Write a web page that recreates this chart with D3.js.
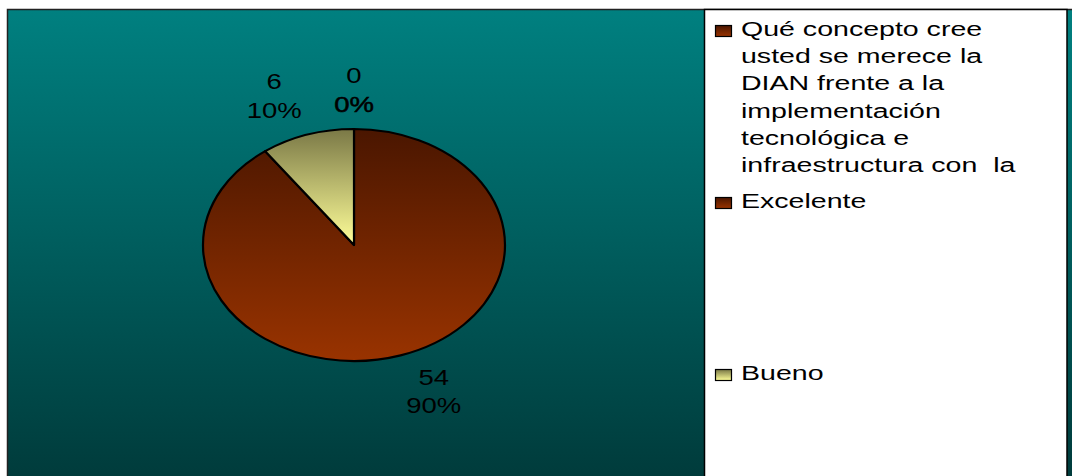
<!DOCTYPE html>
<html lang="es">
<head>
<meta charset="utf-8">
<title>Concepto DIAN</title>
<script src="https://cdn.jsdelivr.net/npm/d3@7"></script>
<style>
  body { margin: 0; background: #fff; }
  text { font-family: "Liberation Sans", Arial, sans-serif; fill: #000; white-space: pre; }
</style>
</head>
<body>
<div id="chart"></div>
<script>
// data
var categories = ["Qué concepto cree usted se merece la DIAN frente a la implementación tecnológica e infraestructura con  la", "Excelente", "Bueno"];
var values = [0, 54, 6];
var legendLines = [
  ["Qué concepto cree", "usted se merece la", "DIAN frente a la", "implementación", "tecnológica e", "infraestructura con  la"],
  ["Excelente"],
  ["Bueno"]
];

var width = 1072, height = 476;
var svg = d3.select("#chart").append("svg")
  .attr("width", width)
  .attr("height", height);

var defs = svg.append("defs");

// teal background gradient
var bg = defs.append("linearGradient")
  .attr("id", "bg").attr("x1", 0).attr("y1", 0).attr("x2", 0).attr("y2", 1);
bg.append("stop").attr("offset", "0%").attr("stop-color", "#008080");
bg.append("stop").attr("offset", "100%").attr("stop-color", "#003a3a");

var colors = d3.scaleOrdinal()
  .domain(categories)
  .range([["#4a1600", "#993300"], ["#4a1600", "#993300"], ["#7a7846", "#ffff99"]]);

categories.forEach(function(c, i) {
  var g = defs.append("linearGradient")
    .attr("id", "slice" + i).attr("x1", 0).attr("y1", 0).attr("x2", 0).attr("y2", 1);
  g.append("stop").attr("offset", "0%").attr("stop-color", colors(c)[0]);
  g.append("stop").attr("offset", "100%").attr("stop-color", colors(c)[1]);
});

svg.append("rect")
  .attr("x", 7.5).attr("y", 9.5)
  .attr("width", width).attr("height", height)
  .attr("fill", "url(#bg)")
  .attr("stroke", "#222").attr("stroke-width", 1.5);

// pie
var cx = 354, cy = 245, rx = 151, ry = 116;
var pie = d3.pie().sort(null).value(function(d) { return d; });
var arcs = pie(values);
var arc = d3.arc().innerRadius(0).outerRadius(1);

var pieG = svg.append("g")
  .attr("transform", "translate(" + cx + "," + cy + ") scale(" + rx + "," + ry + ")");

pieG.selectAll("path")
  .data(arcs)
  .enter().append("path")
  .attr("d", arc)
  .attr("fill", function(d, i) { return "url(#slice" + i + ")"; })
  .attr("stroke", "#000")
  .attr("stroke-width", 2.2)
  .attr("stroke-linejoin", "round")
  .attr("vector-effect", "non-scaling-stroke");

// data labels
var total = d3.sum(values);
var pct = d3.format(".0%");
var labelSx = 1.25;

arcs.forEach(function(d, i) {
  var mid = (d.startAngle + d.endAngle) / 2;
  var ax = cx + Math.sin(mid) * rx * 1.12;
  var ay = cy - Math.cos(mid) * ry * 1.12;
  var top = Math.cos(mid) > 0;
  var b1 = top ? ay - 32 : ay + 16;
  var lab = svg.append("g");
  var inner = lab.append("g").attr("transform", "scale(" + labelSx + ",1)");
  inner.append("text")
    .attr("y", b1).attr("text-anchor", "middle").attr("font-size", 22)
    .text(d.data);
  var t2 = inner.append("text")
    .attr("y", b1 + 28.5).attr("text-anchor", "middle").attr("font-size", 22)
    .text(pct(d.data / total));
  if (d.data === 0) t2.attr("stroke", "#000").attr("stroke-width", 0.5);
  var w = inner.node().getBBox().width * labelSx;
  var s = Math.sin(mid);
  var x = s > 0.01 ? ax + w / 2 : (s < -0.01 ? ax - w / 2 : ax);
  lab.attr("transform", "translate(" + x + ",0)");
});

// legend
var lx = 704.5;
svg.append("rect")
  .attr("x", lx).attr("y", 9.5)
  .attr("width", 1067 - lx).attr("height", height)
  .attr("fill", "#fff")
  .attr("stroke", "#000").attr("stroke-width", 1.5);

var legY = d3.scalePoint().domain(categories).range([36, 380]);
var legendSx = 1.36;

var items = svg.selectAll(".legend")
  .data(categories)
  .enter().append("g")
  .attr("class", "legend")
  .attr("transform", function(d) { return "translate(0," + legY(d) + ")"; });

items.append("rect")
  .attr("x", 715.5).attr("y", -10.5)
  .attr("width", 16).attr("height", 11)
  .attr("fill", function(d, i) { return "url(#slice" + i + ")"; })
  .attr("stroke", "#000").attr("stroke-width", 1.2);

items.append("g")
  .attr("transform", "translate(741,0) scale(" + legendSx + ",1)")
  .selectAll("text")
  .data(function(d, i) { return legendLines[i]; })
  .enter().append("text")
  .attr("y", function(d, j) { return j * 27.2; })
  .attr("font-size", 21)
  .text(function(d) { return d; });
</script>
</body>
</html>
